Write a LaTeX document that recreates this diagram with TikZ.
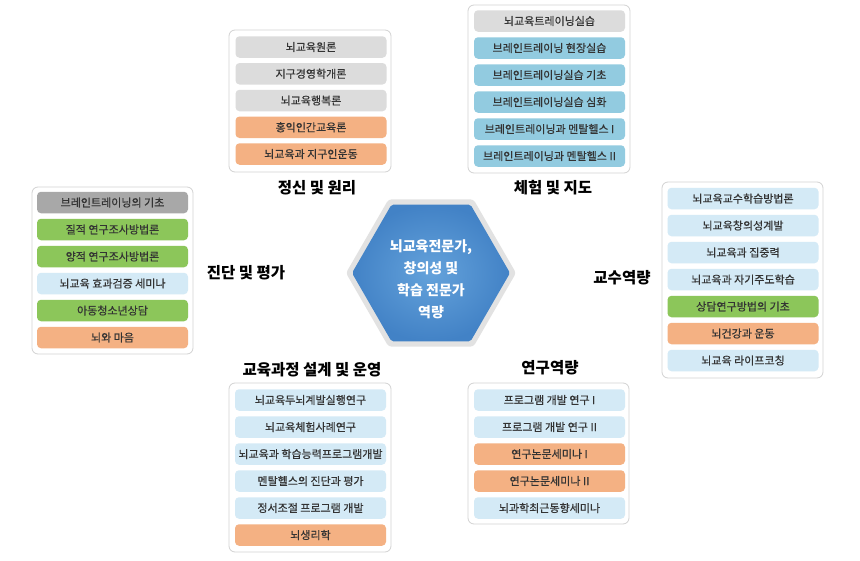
\documentclass[tikz,border=0pt]{standalone}
\usepackage{fontspec}
\setmainfont{Noto Sans CJK KR}
\newfontfamily\itemfont[FakeBold=0.6]{Noto Sans CJK KR}
\definecolor{cgray}{HTML}{DCDCDC}
\definecolor{cdgray}{HTML}{A8A8A8}
\definecolor{corange}{HTML}{F4B183}
\definecolor{cblue}{HTML}{92CBE0}
\definecolor{clblue}{HTML}{D4EAF6}
\definecolor{cgreen}{HTML}{8CC65A}
\definecolor{grpborder}{HTML}{D2D2D2}
\definecolor{itemtext}{HTML}{333333}
\definecolor{hexrim}{HTML}{E2E2E2}
\definecolor{hexin}{HTML}{64A2DB}
\definecolor{hexout}{HTML}{4282C6}
\tikzset{
  grp/.style={draw=grpborder, line width=0.8pt, fill=white, rounded corners=6pt, inner sep=0pt},
  item/.style={rounded corners=4pt, minimum width=151pt, minimum height=21.5pt, inner sep=0pt,
    font=\itemfont\fontsize{11}{12}\selectfont, text=itemtext},
  gr/.style={item, fill=cgray},
  dg/.style={item, fill=cdgray},
  og/.style={item, fill=corange},
  bl/.style={item, fill=cblue},
  lb/.style={item, fill=clblue},
  gn/.style={item, fill=cgreen},
  ttl/.style={font=\fontsize{15.5}{18}\selectfont\bfseries, text=black, inner sep=0pt},
}
\begin{document}
\begin{tikzpicture}[x=1pt,y=-1pt]
\useasboundingbox[fill=white] (0,0) rectangle (860,560);

% hexagon
\fill[hexrim, rounded corners=3pt] (431,273) ++(0:85) -- ++(120:85) -- ++(180:85) -- ++(240:85) -- ++(300:85) -- ++(0:85) -- cycle;
\shade[inner color=hexin, outer color=hexout, rounded corners=2pt] (431,273) ++(0:79) -- ++(120:79) -- ++(180:79) -- ++(240:79) -- ++(300:79) -- ++(0:79) -- cycle;
\node[align=center, text=white, font=\fontsize{14}{22}\selectfont\bfseries] (hub) at (431,279) {뇌교육전문가,\\창의성 및\\학습 전문가\\역량};

% group: top-left
\node[grp, minimum width=162pt, minimum height=142pt] (g1) at (310,101) {};
\node[gr] (a1) at (311,47) {뇌교육원론};
\node[gr] (a2) at (311,73.75) {지구경영학개론};
\node[gr] (a3) at (311,100.5) {뇌교육행복론};
\node[og] (a4) at (311,127.25) {홍익인간교육론};
\node[og] (a5) at (311,154) {뇌교육과 지구인운동};
\node[ttl] (t1) at (317,188) {정신 및 원리};

% group: top-right
\node[grp, minimum width=162pt, minimum height=168pt] (g2) at (549,89) {};
\node[gr] (b1) at (549.5,21) {뇌교육트레이닝실습};
\node[bl] (b2) at (549.5,48) {브레인트레이닝 현장실습};
\node[bl] (b3) at (549.5,75) {브레인트레이닝실습 기초};
\node[bl] (b4) at (549.5,102) {브레인트레이닝실습 심화};
\node[bl] (b5) at (549.5,129) {브레인트레이닝과 멘탈헬스 I};
\node[bl] (b6) at (549.5,156) {브레인트레이닝과 멘탈헬스 II};
\node[ttl] (t2) at (553,188) {체험 및 지도};

% group: left
\node[grp, minimum width=161pt, minimum height=167pt] (g3) at (112.5,270.5) {};
\node[dg] (c1) at (112.5,202.5) {브레인트레이닝의 기초};
\node[gn] (c2) at (112.5,229.5) {질적 연구조사방법론};
\node[gn] (c3) at (112.5,256.5) {양적 연구조사방법론};
\node[lb] (c4) at (112.5,283.5) {뇌교육 효과검증 세미나};
\node[gn] (c5) at (112.5,310.5) {아동청소년상담};
\node[og] (c6) at (112.5,337.5) {뇌와 마음};
\node[ttl] (t3) at (246,273) {진단 및 평가};

% group: right
\node[grp, minimum width=161pt, minimum height=196pt] (g4) at (742.5,280) {};
\node[lb] (d1) at (743,198.5) {뇌교육교수학습방법론};
\node[lb] (d2) at (743,225.5) {뇌교육창의성계발};
\node[lb] (d3) at (743,252.5) {뇌교육과 집중력};
\node[lb] (d4) at (743,279.5) {뇌교육과 자기주도학습};
\node[gn] (d5) at (743,306.5) {상담연구방법의 기초};
\node[og] (d6) at (743,333.5) {뇌건강과 운동};
\node[lb] (d7) at (743,360.5) {뇌교육 라이프코칭};
\node[ttl] (t4) at (622,278) {교수역량};

% group: bottom-left
\node[grp, minimum width=162pt, minimum height=169pt] (g5) at (310,467.5) {};
\node[lb] (e1) at (310.5,400) {뇌교육두뇌계발실행연구};
\node[lb] (e2) at (310.5,427) {뇌교육체험사례연구};
\node[lb] (e3) at (310.5,454) {뇌교육과 학습능력프로그램개발};
\node[lb] (e4) at (310.5,481) {멘탈헬스의 진단과 평가};
\node[lb] (e5) at (310.5,508) {정서조절 프로그램 개발};
\node[og] (e6) at (310.5,535) {뇌생리학};
\node[ttl] (t5) at (312,370) {교육과정 설계 및 운영};

% group: bottom-right
\node[grp, minimum width=161pt, minimum height=141pt] (g6) at (548.5,453.5) {};
\node[lb] (f1) at (549.5,400) {프로그램 개발 연구 I};
\node[lb] (f2) at (549.5,427) {프로그램 개발 연구 II};
\node[og] (f3) at (549.5,454) {연구논문세미나 I};
\node[og] (f4) at (549.5,481) {연구논문세미나 II};
\node[lb] (f5) at (549.5,508) {뇌과학최근동향세미나};
\node[ttl] (t6) at (550,368) {연구역량};
\end{tikzpicture}
\end{document}
